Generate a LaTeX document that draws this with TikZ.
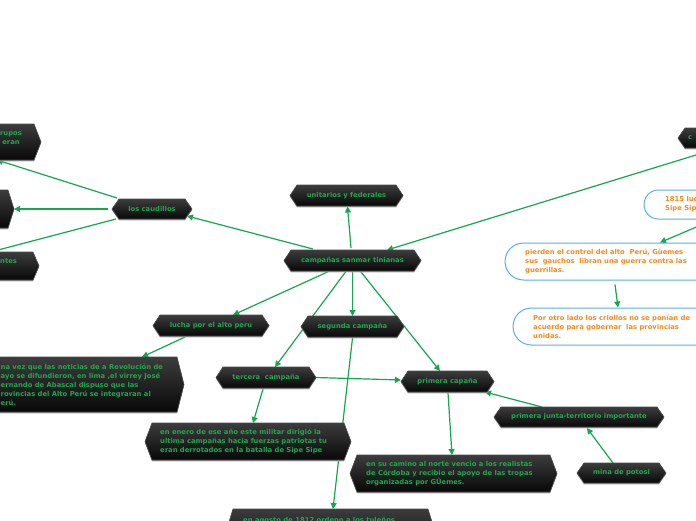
\documentclass[tikz,border=0pt]{standalone}
\usepackage{fontspec}
\setmainfont{DejaVu Sans}
\usetikzlibrary{arrows.meta,calc,backgrounds,shapes.misc}
\definecolor{lgreen}{HTML}{14A651}
\definecolor{tgreen}{HTML}{1DA84D}
\definecolor{hexTop}{HTML}{3C3C3C}
\definecolor{hexBot}{HTML}{080808}
\definecolor{hexEdge}{HTML}{4A4A4A}
\definecolor{hexShadow}{HTML}{A8A8A8}
\definecolor{oblue}{HTML}{5AAEE8}
\definecolor{otext}{HTML}{F28A1E}
\tikzset{
 hexrect/.style={rectangle, draw=none, inner sep=0pt, outer sep=0pt},
 hexfill/.style={top color=hexTop, bottom color=hexBot, draw=hexEdge, line width=0.6pt},
 hexshade/.style={fill=hexShadow},
 gtext/.style={text=tgreen, font=\fontsize{6.8}{9}\selectfont\bfseries, inner sep=0pt, align=left},
 otxt/.style={text=otext, font=\fontsize{6.8}{9}\selectfont\bfseries, inner sep=0pt, align=left},
 obox/.style={rounded rectangle, draw=oblue, line width=1pt, fill=white, inner sep=0pt},
 conn/.style={draw=lgreen, line width=1.2pt, -{Triangle[length=6pt,width=6pt]}},
}
\newcommand\hexshape[4]{\path[#4] ($(#1.north west)+(0,#3)$) -- ($(#1.north east)+(0,#3)$) -- ($(#1.east)+(#2,#3)$) -- ($(#1.south east)+(0,#3)$) -- ($(#1.south west)+(0,#3)$) -- ($(#1.west)+(-#2,#3)$) -- cycle;}
\newcommand\hexbox[6]{\node[hexrect, minimum width=#4pt, minimum height=#5pt] (#1) at (#2,#3) {};
 \hexshape{#1}{#6}{1.4}{hexshade}
 \hexshape{#1}{#6}{0}{hexfill}}
\begin{document}
\begin{tikzpicture}[x=1pt,y=-1pt]
\useasboundingbox (0,0) rectangle (696,520);
\clip (0,0) rectangle (696,520);

\hexbox{A}{-3}{142}{74}{36}{7}
\hexbox{B}{-26}{209}{68}{38}{6}
\hexbox{C}{-3.5}{266}{73}{28}{6}
\hexbox{D}{152}{209}{66}{20}{7}
\hexbox{E}{346.5}{195.5}{99}{21}{7}
\hexbox{F}{352.5}{260.5}{123}{21}{7}
\hexbox{G}{211}{325.5}{102}{21}{7}
\hexbox{H}{352.5}{326.5}{89}{21}{7}
\hexbox{I}{266}{377.5}{86}{21}{7}
\hexbox{J}{248}{441.5}{192}{37}{7}
\hexbox{K}{447.5}{381.5}{79}{21}{7}
\hexbox{L}{579}{417}{156}{20}{7}
\hexbox{M}{453.5}{473.5}{193}{37}{7}
\hexbox{N}{621.5}{473}{75}{20}{7}
\hexbox{O}{73.5}{384.5}{207}{55}{7}
\hexbox{P}{330.5}{531.5}{195}{45}{7}
\hexbox{Q}{742.5}{138}{115}{20}{7}

\node[obox, minimum width=156pt, minimum height=29pt] (R) at (722,204.5) {};
\node[obox, minimum width=215pt, minimum height=37pt] (S) at (612.5,261.5) {};
\node[obox, minimum width=207pt, minimum height=37pt] (T) at (616.5,326.5) {};

\node[gtext, align=center] (At) at (11,138.5) {rupos\\eran};
\node[gtext, anchor=west] (Ct) at (0,261) {ntes};
\node[gtext] (Dt) at (D) {los caudillos};
\node[gtext] (Et) at (E) {unitarios y federales};
\node[gtext] (Ft) at (F) {campañas sanmar tinianas};
\node[gtext] (Gt) at (G) {lucha por el alto peru};
\node[gtext] (Ht) at (H) {segunda campaña};
\node[gtext] (It) at (I) {tercera~ campaña};
\node[gtext, anchor=west] (Jt) at (160,441.5) {en enero de ese año este militar dirigió la\\ultima campañas hacia fuerzas patriotas tu\\eran derrotados en la batalla de Sipe Sipe};
\node[gtext] (Kt) at (K) {primera capaña};
\node[gtext] (Lt) at (L) {primera junta-territorio importante};
\node[gtext, anchor=west] (Mt) at (366,474) {en su camino al norte vencio a los realistas\\de Córdoba y recibio el apoyo de las tropas\\organizadas por GÜemes.};
\node[gtext] (Nt) at (N) {mina de potosi};
\node[gtext, anchor=west] (Ot) at (0.5,385) {na vez que las noticias de a Revolución de\\ayo se difundieron, en lima ,el virrey José\\ernando de Abascal dispuso que las\\rovincias del Alto Perú se integraran al\\erú.};
\node[gtext, anchor=west] (Pt) at (243,521) {en agosto de 1812 ordeno a los tuleños};
\node[gtext, anchor=west] (Qt) at (688,138) {c};
\node[otxt, anchor=west] (Rt) at (665,204.5) {1815 luego\\Sipe Sipe};
\node[otxt, anchor=west] (St) at (525,262) {pierden el control del alto~ Perú, Güemes\\sus~ gauchos~ libran una guerra contra las\\guerrillas.};
\node[otxt, anchor=west] (Tt) at (533,327) {Por otro lado los criollos no se ponían de\\acuerdo para gobernar~ las provincias\\unidas.};

\begin{scope}[on background layer]
\draw[conn] ($(D.north west)+(-2,-1)$) -- (A.south);
\draw[conn] ($(D.west)+(-11,0)$) -- ($(B.east)+(6,0)$);
\draw[conn] ($(D.south west)+(-3,0)$) -- ($(C.north)+(-6,0)$);
\draw[conn] ($(F.north west)+(22,-1)$) -- ($(D.south east)+(2,-3)$);
\draw[conn] ($(F.north)+(-1.5,-2)$) -- ($(E.south)+(1,0.5)$);
\draw[conn] ($(Q.south west)+(37,-1)$) -- ($(F.north)+(34.5,0)$);
\draw[conn] ($(F.south)+(-25,1)$) -- ($(G.north)+(22,0)$);
\draw[conn] ($(F.south)+(0,1)$) -- (H.north);
\draw[conn] ($(F.south)+(-7,1)$) -- ($(I.north)+(9,0)$);
\draw[conn] ($(F.south)+(8.5,1)$) -- ($(K.north)+(-7.5,0)$);
\draw[conn] ($(G.south)+(-26,1)$) -- ($(O.north east)+(-35,0)$);
\draw[conn] ($(I.south)+(-3,1)$) -- ($(J.north)+(5,0)$);
\draw[conn] ($(I.east)+(7,0)$) -- ($(K.west)+(-7,-1.5)$);
\draw[conn] ($(H.south)+(0,1)$) -- ($(P.north)+(2.5,0)$);
\draw[conn] ($(K.south)+(0.5,1)$) -- ($(M.north)+(-1.5,0)$);
\draw[conn] ($(L.north)+(-37,0)$) -- ($(K.south east)+(-2,0)$);
\draw[conn] ($(N.north)+(-8.5,0)$) -- ($(L.south)+(8,1)$);
\draw[conn] ($(R.south)+(-8,0)$) -- ($(S.north)+(47.5,0)$);
\draw[conn] ($(S.south)+(2.5,4)$) -- ($(T.north)+(1.5,0)$);
\end{scope}
\end{tikzpicture}
\end{document}
